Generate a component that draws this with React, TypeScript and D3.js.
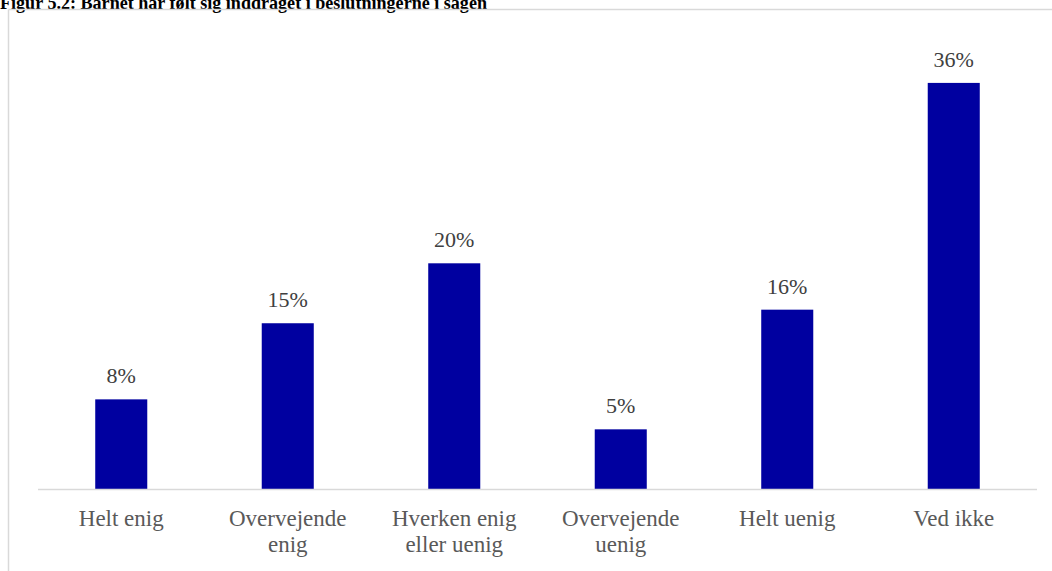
import React from "react";
import * as d3 from "d3";

const categories: string[][] = [
  ["Helt enig"],
  ["Overvejende", "enig"],
  ["Hverken enig", "eller uenig"],
  ["Overvejende", "uenig"],
  ["Helt uenig"],
  ["Ved ikke"],
];
const values: number[] = [7.97, 14.7, 20.0, 5.32, 15.9, 35.95];
const valueLabels: string[] = ["8%", "15%", "20%", "5%", "16%", "36%"];
const title = "Figur 5.2: Barnet har følt sig inddraget i beslutningerne i sagen";

const W = 1052;
const H = 571;
const plotLeft = 38;
const plotRight = 1037;
const baseY = 489.5;
const pxPerUnit = 11.31;

export default function App() {
  const keys = categories.map((_, i) => String(i));
  const x = d3.scaleBand<string>().domain(keys).range([plotLeft, plotRight]).paddingInner(0.6875).paddingOuter(0.34375);
  const y = d3.scaleLinear().domain([0, 40]).range([baseY, baseY - 40 * pxPerUnit]);
  const font = "'Liberation Serif', 'Times New Roman', serif";
  return (
    <svg width={W} height={H} style={{ position: "absolute", left: 0, top: 0, background: "#fff" }}>
      <text x={0} y={9} fontFamily={font} fontWeight="bold" fontSize={18} fill="#000" textLength={487} lengthAdjust="spacingAndGlyphs">{title}</text>
      <line x1={8.5} x2={W} y1={9.5} y2={9.5} stroke="#d9d9d9" strokeWidth={1.5} />
      <line x1={8.5} x2={8.5} y1={9.5} y2={H} stroke="#d9d9d9" strokeWidth={1.5} />
      {values.map((v, i) => {
        const bx = x(String(i))!;
        const bw = x.bandwidth();
        return (
          <g key={i}>
            <rect x={bx} y={y(v)} width={bw} height={baseY - y(v)} fill="#0000A0" />
            <text x={bx + bw / 2} y={y(v) - 16} textAnchor="middle" fontFamily={font} fontSize={22} fill="#404040">{valueLabels[i]}</text>
          </g>
        );
      })}
      <line x1={plotLeft} x2={plotRight} y1={baseY} y2={baseY} stroke="#d9d9d9" strokeWidth={1.5} />
      {categories.map((lines, i) => {
        const cx = x(String(i))! + x.bandwidth() / 2;
        return (
          <text key={i} textAnchor="middle" fontFamily={font} fontSize={23} fill="#595959">
            {lines.map((l, j) => (
              <tspan key={j} x={cx} y={526 + j * 25.5}>{l}</tspan>
            ))}
          </text>
        );
      })}
    </svg>
  );
}
